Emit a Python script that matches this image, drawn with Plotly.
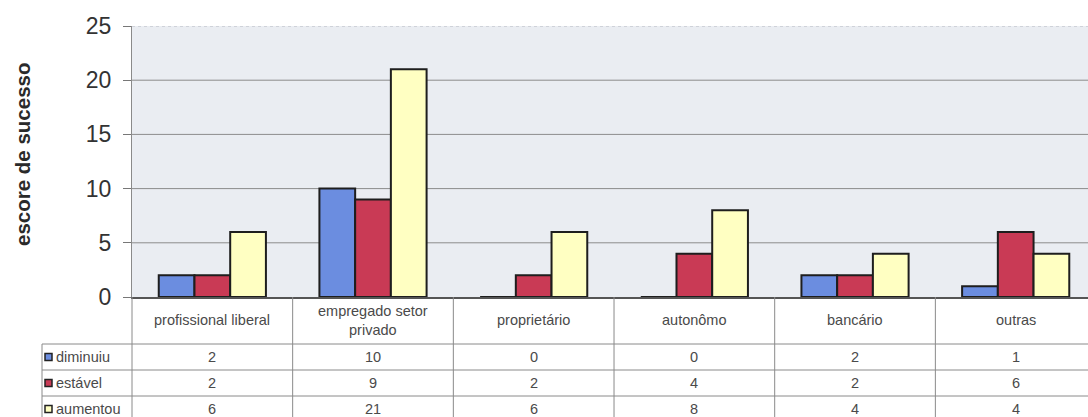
import plotly.graph_objects as go

categories = ["profissional liberal", "empregado setor<br>privado", "proprietário",
              "autonômo", "bancário", "outras"]
series_names = ["diminuiu", "estável", "aumentou"]
diminuiu = [2, 10, 0, 0, 2, 1]
estavel = [2, 9, 2, 4, 2, 6]
aumentou = [6, 21, 6, 8, 4, 4]
y_ticks = [0, 5, 10, 15, 20, 25]

series_values = [diminuiu, estavel, aumentou]
colors = ["#6b8de0", "#c93a55", "#ffffc2"]

W, H = 1088, 417
ML, MR, MT, MB = 132, 0, 26, 120
PW = W - ML - MR
PH = H - MT - MB
FONT = "Liberation Sans, Arial, sans-serif"


def px_x(p):
    return (p - ML) / PW


def px_y(p):
    return (H - MB - p) / PH


fig = go.Figure()
xs = list(range(len(categories)))
for name, vals, col in zip(series_names, series_values, colors):
    fig.add_trace(go.Bar(
        x=xs, y=vals, name=name,
        marker=dict(color=col, line=dict(color="#1e1e1e", width=2)),
        showlegend=False,
    ))

shapes = []
# gridlines (below bars)
for t in y_ticks[1:-1]:
    shapes.append(dict(type="line", xref="paper", yref="y", x0=0, x1=1, y0=t, y1=t,
                       layer="below", line=dict(color="#8c8c8c", width=1)))
shapes.append(dict(type="line", xref="paper", yref="y", x0=0, x1=1,
                   y0=y_ticks[-1], y1=y_ticks[-1], layer="below",
                   line=dict(color="#b4b8c0", width=1, dash="dot")))

line_col = "#8a8a8a"
# vertical table lines (category boundaries)
shapes.append(dict(type="line", xref="paper", yref="paper", x0=0, x1=0,
                   y0=0, y1=px_y(H + 10), line=dict(color=line_col, width=1)))
for i in range(len(categories) - 1):
    shapes.append(dict(type="line", xref="x", yref="paper", x0=i + 0.5, x1=i + 0.5,
                       y0=0, y1=px_y(H + 10), line=dict(color=line_col, width=1)))
# legend column left border
shapes.append(dict(type="line", xref="paper", yref="paper", x0=px_x(42), x1=px_x(42),
                   y0=px_y(344), y1=px_y(H + 10), line=dict(color=line_col, width=1)))
# horizontal table lines
for py in [344, 370, 396]:
    shapes.append(dict(type="line", xref="paper", yref="paper", x0=px_x(42), x1=1.01,
                       y0=px_y(py), y1=px_y(py), line=dict(color=line_col, width=1)))

TXT = "#4a4a4a"
annotations = []
# header labels
for i, c in enumerate(categories):
    annotations.append(dict(x=i, y=px_y(320), xref="x", yref="paper", text=c,
                            showarrow=False, yanchor="middle", xanchor="center",
                            font=dict(family=FONT, size=14.5, color=TXT)))
row_centers = [357, 383, 409]
for name, vals, col, yc in zip(series_names, series_values, colors, row_centers):
    shapes.append(dict(type="rect", xref="paper", yref="paper",
                       x0=px_x(45), x1=px_x(52), y0=px_y(yc + 3.5), y1=px_y(yc - 3.5),
                       fillcolor=col, line=dict(color="#222", width=1.5)))
    annotations.append(dict(x=px_x(54), y=px_y(yc), xref="paper", yref="paper", text=name,
                            showarrow=False, xanchor="left", yanchor="middle",
                            font=dict(family=FONT, size=14.5, color=TXT)))
    for i, v in enumerate(vals):
        annotations.append(dict(x=i, y=px_y(yc), xref="x", yref="paper", text=str(v),
                                showarrow=False, xanchor="center", yanchor="middle",
                                font=dict(family=FONT, size=14.5, color=TXT)))

# y title
annotations.append(dict(x=px_x(22), y=px_y(155), xref="paper", yref="paper",
                        text="<b>escore de sucesso</b>", textangle=-90, showarrow=False,
                        xanchor="center", yanchor="middle",
                        font=dict(family=FONT, size=20.5, color="#2a2a2a")))

fig.update_layout(
    width=W, height=H,
    margin=dict(l=ML, r=MR, t=MT, b=MB, pad=0),
    paper_bgcolor="white",
    plot_bgcolor="#eaedf2",
    barmode="group", bargap=0.333, bargroupgap=0,
    shapes=shapes, annotations=annotations,
    font=dict(family=FONT),
)
fig.update_xaxes(range=[-0.5, 5.45], showticklabels=False, ticks="", showgrid=False,
                 showline=True, linecolor="#555", linewidth=1.5, zeroline=False,
                 fixedrange=True)
fig.update_yaxes(range=[0, 25], tickvals=y_ticks, ticks="outside", ticklen=8,
                 tickcolor="#777", showgrid=False,
                 showline=True, linecolor="#8a8a8a", linewidth=1, zeroline=False,
                 tickfont=dict(family=FONT, size=23, color="#333"),
                 ticklabelstandoff=7)

fig.write_html("out.html")
